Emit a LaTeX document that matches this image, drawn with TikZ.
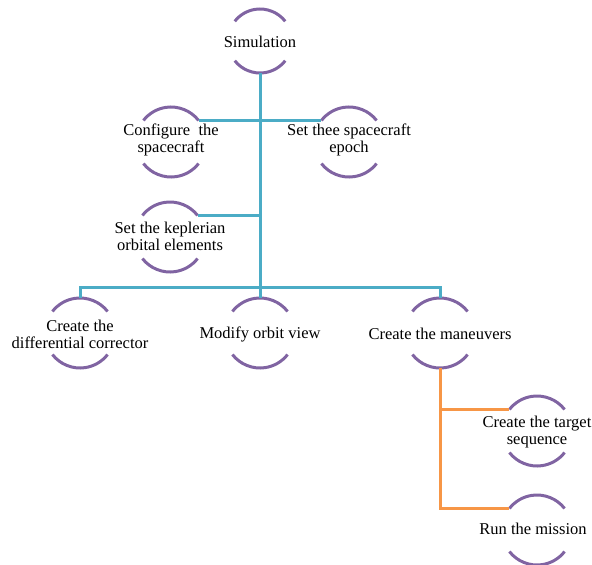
\documentclass[tikz,border=0pt]{standalone}
\usepackage{fontspec}
\setmainfont{Liberation Serif}
\definecolor{ringc}{HTML}{8064A2}
\definecolor{bluec}{HTML}{4BACC6}
\definecolor{orangec}{HTML}{F79646}
\begin{document}
\begin{tikzpicture}[x=1pt,y=1pt,
  ringline/.style={draw=ringc,line width=3pt},
  blueline/.style={draw=bluec,line width=3pt},
  orangeline/.style={draw=orangec,line width=3pt},
  label/.style={align=center,inner sep=0pt,font=\fontsize{16.5}{17}\selectfont},
  pics/ring/.style={code={
    \draw[ringline] (38:#1) arc[start angle=38,end angle=142,radius=#1];
    \draw[ringline] (218:#1) arc[start angle=218,end angle=322,radius=#1];
    \coordinate (-t) at (90:#1);
    \coordinate (-b) at (270:#1);
    \coordinate (-tl) at (142:#1);
    \coordinate (-tr) at (38:#1);
  }},
  pics/ring/.default=35]
\useasboundingbox (0,0) rectangle (592,-565);
% rings
\pic (sim) at (260,-41) {ring=32};
\pic (conf) at (171,-142) {ring};
\pic (epoch) at (349,-142) {ring};
\pic (kep) at (170,-237) {ring};
\pic (diff) at (80,-333) {ring};
\pic (mod) at (260,-333) {ring};
\pic (man) at (440,-333) {ring};
\pic (tgt) at (537,-431) {ring};
\pic (run) at (537,-530) {ring};
% labels
\node[label] (simt) at (260,-42) {Simulation};
\node[label] (conft) at (171,-140) {Configure\ \ the\\spacecraft};
\node[label] (epocht) at (349,-140) {Set thee spacecraft\\epoch};
\node[label] (kept) at (170,-236) {Set the keplerian\\orbital elements};
\node[label] (difft) at (80,-334) {Create the\\differential corrector};
\node[label] (modt) at (260,-334) {Modify orbit view};
\node[label] (mant) at (440,-334) {Create the maneuvers};
\node[label] (tgtt) at (537,-432) {Create the target\\sequence};
\node[label] (runt) at (533,-529) {Run the mission};
% blue connectors
\coordinate (bar) at (260,-287);
\draw[blueline] (sim-b) -- (sim-b |- bar);
\draw[blueline] (conf-tr) -- (epoch-tl);
\draw[blueline] (kep-tr) -- (kep-tr -| sim-b);
\draw[blueline] (diff-t) -- (diff-t |- bar) -- (man-t |- bar) -- (man-t);
\draw[blueline] (mod-t) -- (mod-t |- bar);
% orange connectors
\draw[orangeline] (man-b) |- (tgt-tl);
\draw[orangeline] (man-b) |- (run-tl);
\end{tikzpicture}
\end{document}
